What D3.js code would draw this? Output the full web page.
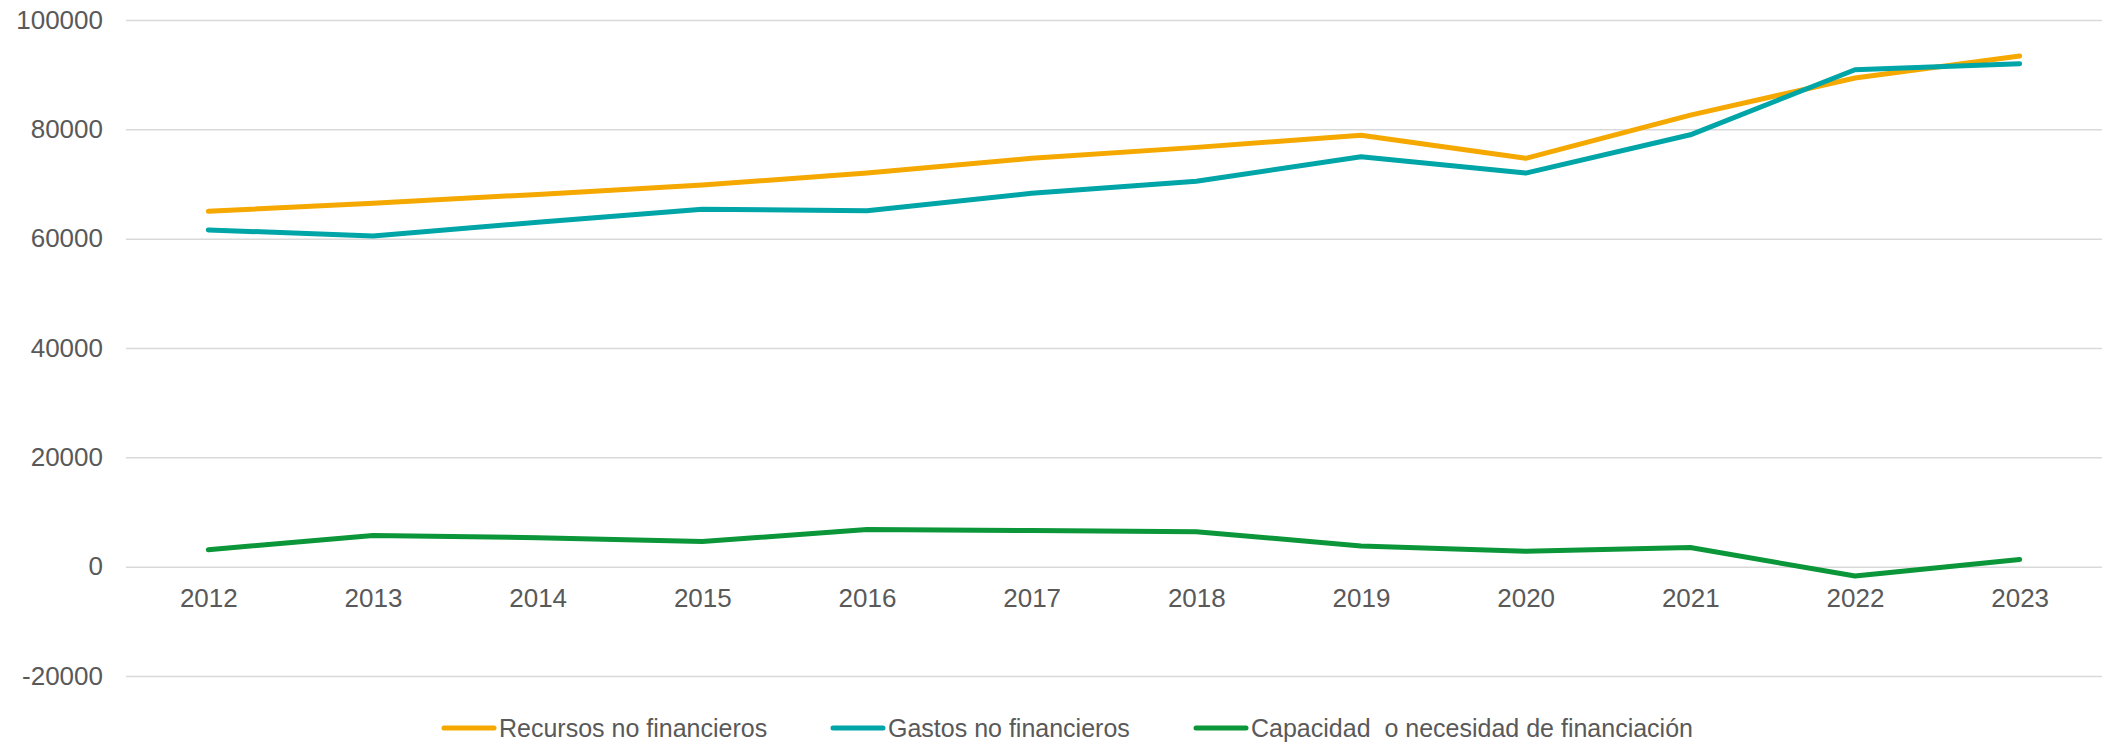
<!DOCTYPE html>
<html>
<head>
<meta charset="utf-8">
<script src="https://cdn.jsdelivr.net/npm/d3@7"></script>
<style>
  body { margin: 0; background: #fff; }
  svg text { font-family: "Liberation Sans", Arial, sans-serif; fill: #595959; }
  .legend text { font-family: "Liberation Sans Narrow", "Liberation Sans", Arial, sans-serif; white-space: pre; }
</style>
</head>
<body>
<div id="chartWrapper"></div>
<script>
var years = ["2012","2013","2014","2015","2016","2017","2018","2019","2020","2021","2022","2023"];
var recursos = [65000, 66500, 68100, 69800, 72000, 74700, 76700, 78900, 74700, 82600, 89400, 93400];
var gastos = [61600, 60500, 63000, 65400, 65100, 68300, 70500, 75000, 72000, 79000, 90900, 92000];
var capacidad = [3100, 5700, 5300, 4600, 6800, 6600, 6400, 3800, 2800, 3500, -1700, 1300];
var yTicks = [-20000, 0, 20000, 40000, 60000, 80000, 100000];
var seriesNames = ["Recursos no financieros", "Gastos no financieros", "Capacidad  o necesidad de financiación"];
var seriesColors = ["#F5A800", "#00A5A8", "#0A9639"];

var w = 2102, h = 744;
var margin = { top: 20, right: 0, bottom: 68, left: 126 };

var svg = d3.select("#chartWrapper").append("svg")
    .attr("width", w)
    .attr("height", h);

var x = d3.scalePoint()
    .domain(years)
    .range([margin.left, w - margin.right])
    .padding(0.5);

var y = d3.scaleLinear()
    .domain([-20000, 100000])
    .range([h - margin.bottom, margin.top]);

// gridlines + y labels (plain hyphen for negatives, like the original)
var yAxis = d3.axisLeft(y)
    .tickValues(yTicks)
    .tickSize(-(w - margin.left - margin.right))
    .tickPadding(23)
    .tickFormat(function(d){ return String(d); });

var gy = svg.append("g")
    .attr("transform", "translate(" + margin.left + ",0)")
    .call(yAxis);
gy.select(".domain").remove();
gy.selectAll(".tick line").attr("stroke", "#D9D9D9").attr("stroke-width", 1.5);
gy.selectAll(".tick text").style("font-size", "26px").attr("fill", "#595959");

// x labels sit below the zero line
var xAxis = d3.axisBottom(x).tickSize(0).tickPadding(22);
var gx = svg.append("g")
    .attr("transform", "translate(0," + y(0) + ")")
    .call(xAxis);
gx.select(".domain").remove();
gx.selectAll(".tick text").style("font-size", "26px").attr("fill", "#595959");

var line = d3.line()
    .x(function(d, i){ return x(years[i]); })
    .y(function(d){ return y(d); });

[recursos, gastos, capacidad].forEach(function(s, i){
    svg.append("path")
        .datum(s)
        .attr("fill", "none")
        .attr("stroke", seriesColors[i])
        .attr("stroke-width", 5)
        .attr("stroke-linecap", "round")
        .attr("stroke-linejoin", "round")
        .attr("d", line);
});

// legend
var legendX = [442, 831, 1194];
var legend = svg.append("g").attr("class", "legend");
seriesNames.forEach(function(name, i){
    var g = legend.append("g").attr("transform", "translate(" + legendX[i] + ",728)");
    g.append("line")
        .attr("x1", 2).attr("x2", 52)
        .attr("y1", 0).attr("y2", 0)
        .attr("stroke", seriesColors[i])
        .attr("stroke-width", 5)
        .attr("stroke-linecap", "round");
    g.append("text")
        .attr("x", 57)
        .attr("y", 0)
        .attr("dy", "0.35em")
        .style("font-size", "25px")
        .text(name);
});
</script>
</body>
</html>
